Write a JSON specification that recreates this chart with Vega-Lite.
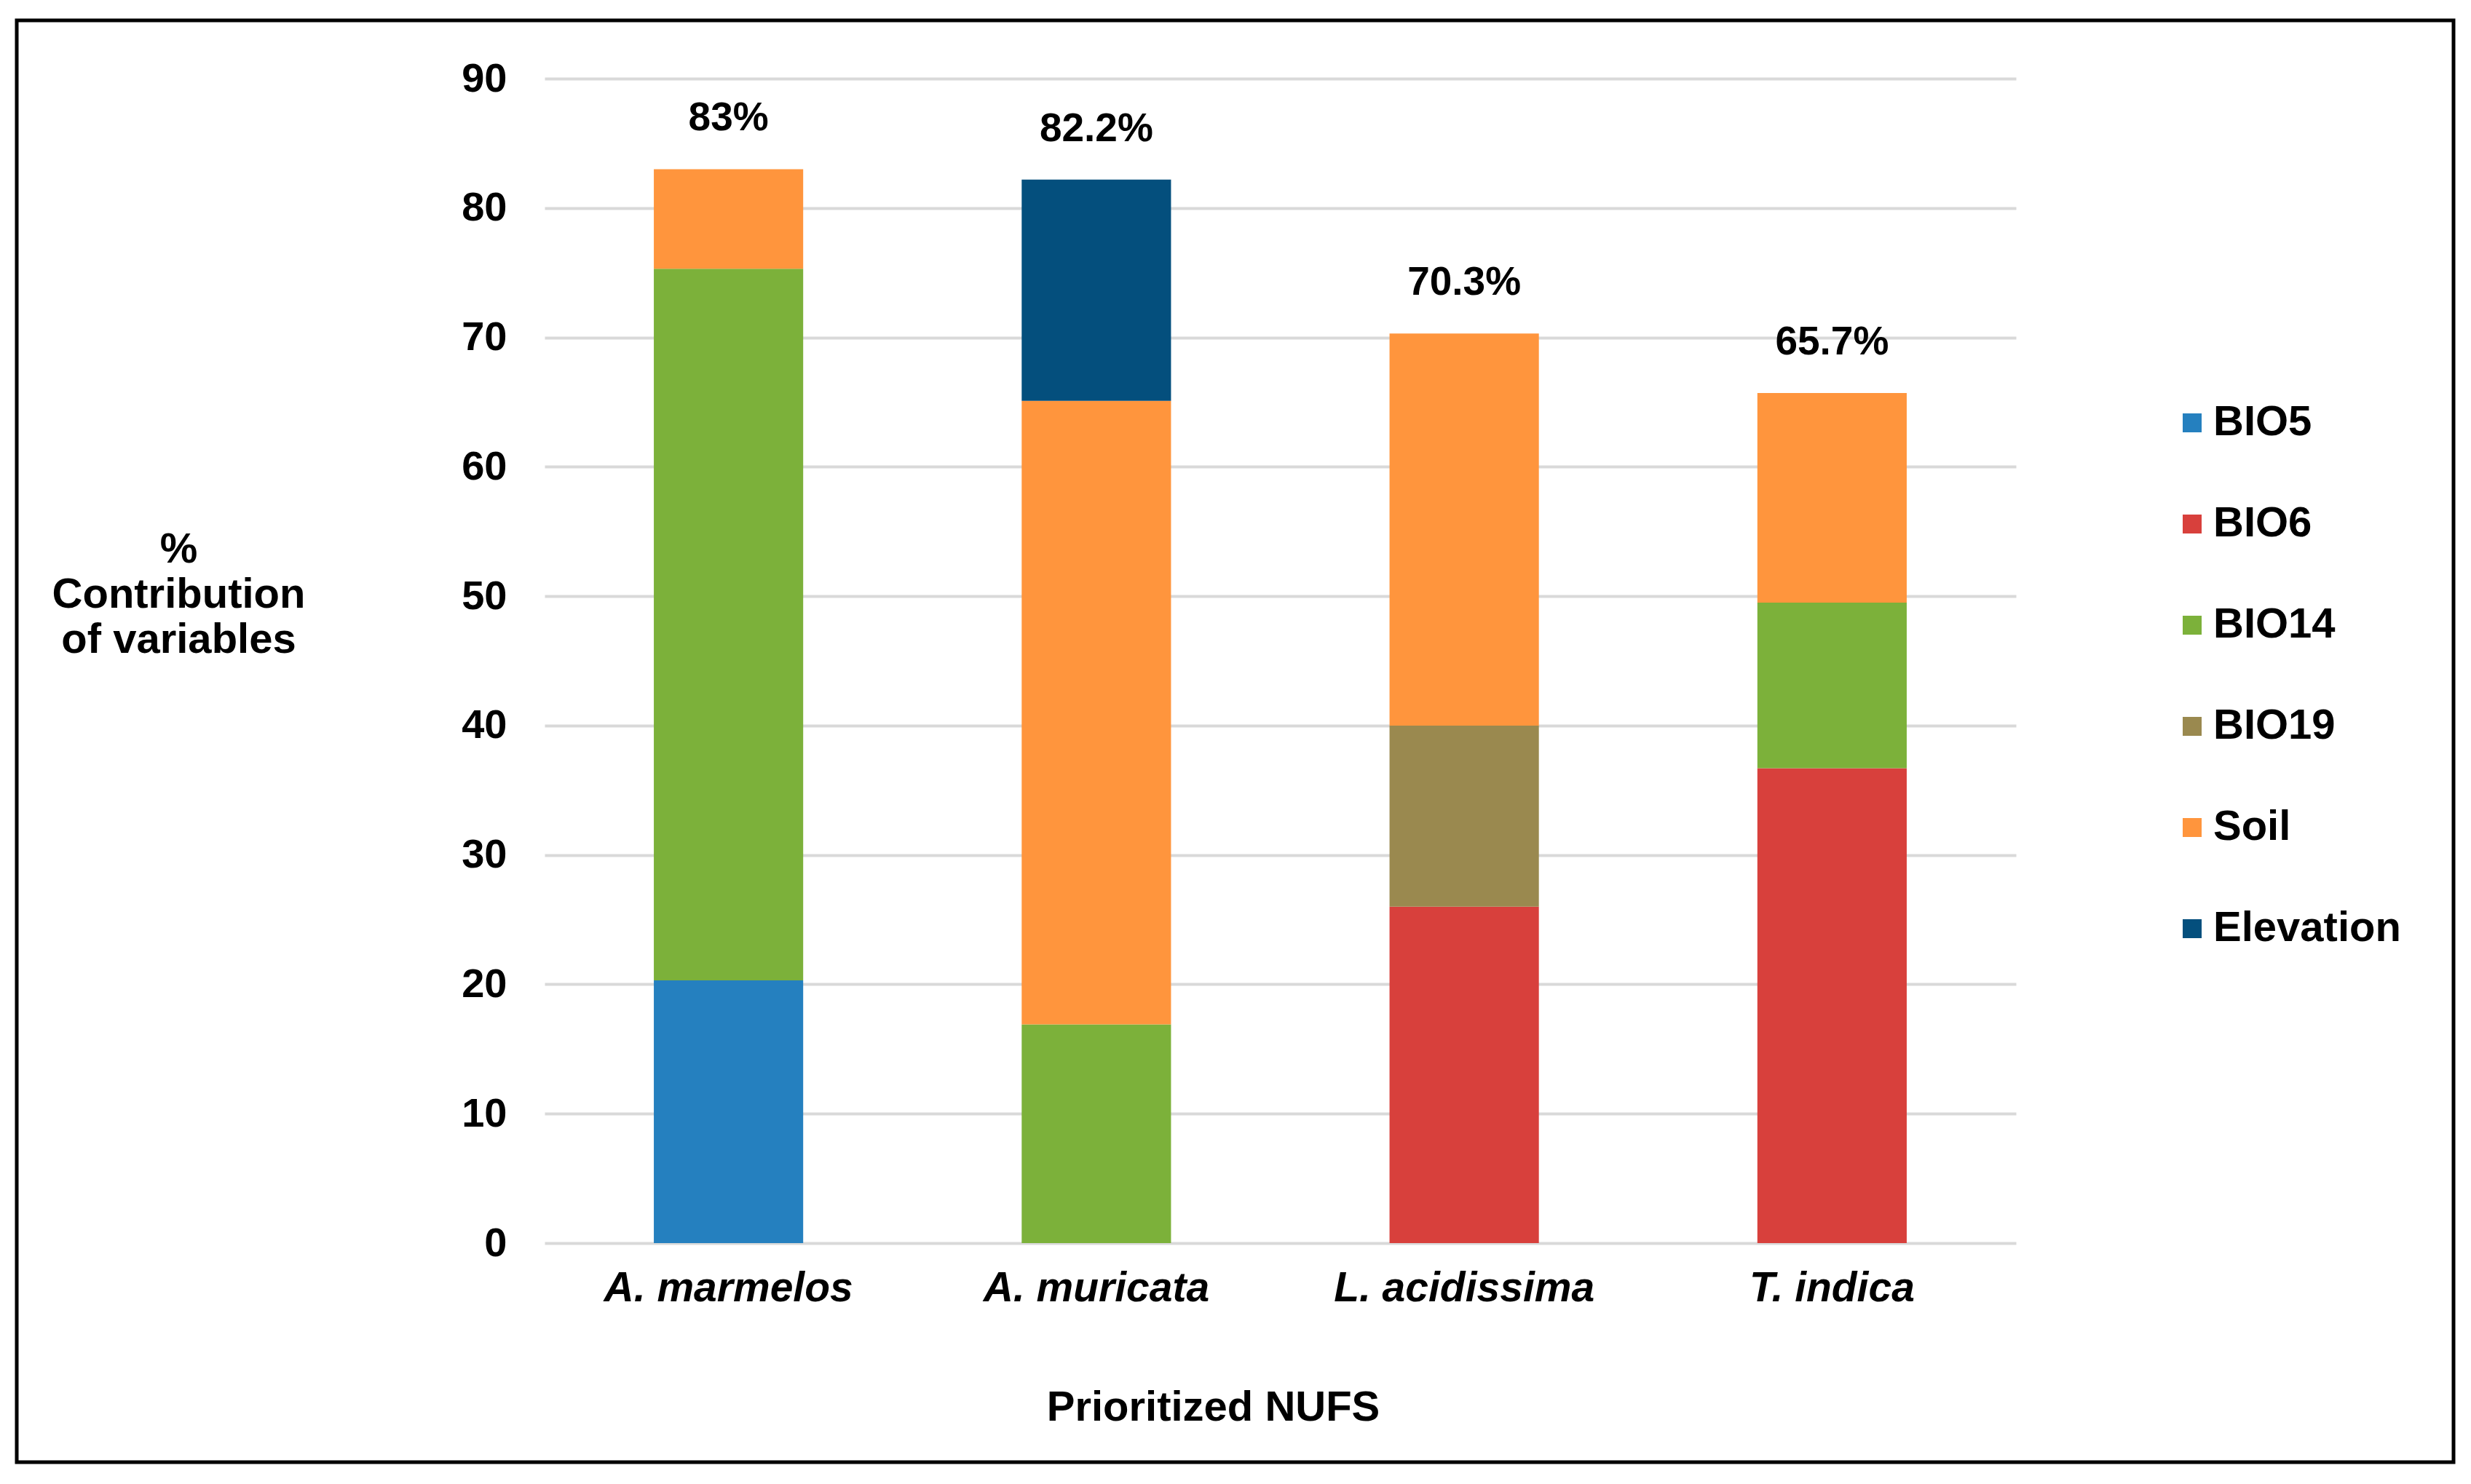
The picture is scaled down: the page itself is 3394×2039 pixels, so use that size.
{
  "$schema": "https://vega.github.io/schema/vega-lite/v6.json",
  "autosize": {"type": "none"},
  "width": 2021,
  "height": 1600,
  "padding": {"left": 748, "top": 108, "right": 625, "bottom": 331},
  "background": "white",
  "config": {
    "view": {"stroke": null},
    "font": "Liberation Sans",
    "text": {"font": "Liberation Sans"}
  },
  "datasets": {
    "parts": [
      {"species": "A. marmelos", "variable": "BIO5", "value": 20.3},
      {"species": "A. marmelos", "variable": "BIO14", "value": 55.0},
      {"species": "A. marmelos", "variable": "Soil", "value": 7.7},
      {"species": "A. muricata", "variable": "BIO14", "value": 16.9},
      {"species": "A. muricata", "variable": "Soil", "value": 48.2},
      {"species": "A. muricata", "variable": "Elevation", "value": 17.1},
      {"species": "L. acidissima", "variable": "BIO6", "value": 26.0},
      {"species": "L. acidissima", "variable": "BIO19", "value": 14.0},
      {"species": "L. acidissima", "variable": "Soil", "value": 30.3},
      {"species": "T. indica", "variable": "BIO6", "value": 36.7},
      {"species": "T. indica", "variable": "BIO14", "value": 12.8},
      {"species": "T. indica", "variable": "Soil", "value": 16.2}
    ],
    "totals": [
      {"species": "A. marmelos", "total": 83.0, "label": "83%"},
      {"species": "A. muricata", "total": 82.2, "label": "82.2%"},
      {"species": "L. acidissima", "total": 70.3, "label": "70.3%"},
      {"species": "T. indica", "total": 65.7, "label": "65.7%"}
    ],
    "frame": [{"x0": 0, "x1": 1, "y0": 0, "y1": 1}]
  },
  "layer": [
    {
      "layer": [
        {
          "data": {"name": "parts"},
          "transform": [
            {"calculate": "indexof(['BIO5','BIO6','BIO14','BIO19','Soil','Elevation'], datum.variable)", "as": "stackOrder"}
          ],
          "mark": {"type": "bar", "stroke": null},
          "encoding": {
            "x": {
              "field": "species",
              "type": "nominal",
              "sort": ["A. marmelos", "A. muricata", "L. acidissima", "T. indica"],
              "scale": {"paddingInner": 0.594, "paddingOuter": 0.297},
              "axis": {
                "labelAngle": 0,
                "labelFont": "Liberation Sans",
                "labelFontSize": 57,
                "labelFontWeight": "bold",
                "labelFontStyle": "italic",
                "labelColor": "#000000",
                "labelPadding": 34,
                "labelLimit": 900,
                "ticks": false,
                "domain": false,
                "title": "Prioritized NUFS",
                "titleFont": "Liberation Sans",
                "titleFontSize": 58,
                "titleFontWeight": "bold",
                "titleColor": "#000000",
                "titleX": 918,
                "titleY": 226,
                "titleBaseline": "middle",
                "titleAlign": "center"
              }
            },
            "y": {
              "field": "value",
              "type": "quantitative",
              "stack": "zero",
              "scale": {"domain": [0, 90], "nice": false},
              "axis": {
                "values": [0, 10, 20, 30, 40, 50, 60, 70, 80, 90],
                "labelFont": "Liberation Sans",
                "labelFontSize": 56,
                "labelFontWeight": "bold",
                "labelColor": "#000000",
                "labelPadding": 52,
                "ticks": false,
                "domain": false,
                "grid": true,
                "gridColor": "#d9d9d9",
                "gridWidth": 4,
                "title": ["%", "Contribution", "of variables"],
                "titleFont": "Liberation Sans",
                "titleFontSize": 58,
                "titleFontWeight": "bold",
                "titleColor": "#000000",
                "titleAngle": 0,
                "titleAlign": "center",
                "titleBaseline": "middle",
                "titleLineHeight": 62,
                "titleX": -503,
                "titleY": 647
              }
            },
            "order": {"field": "stackOrder", "type": "quantitative", "sort": "ascending"},
            "color": {
              "field": "variable",
              "type": "nominal",
              "sort": ["BIO5", "BIO6", "BIO14", "BIO19", "Soil", "Elevation"],
              "scale": {
                "domain": ["BIO5", "BIO6", "BIO14", "BIO19", "Soil", "Elevation"],
                "range": ["#2580bf", "#d8403c", "#7cb13a", "#9a894f", "#ff953d", "#044f7d"]
              },
              "legend": {
                "title": null,
                "orient": "none",
                "legendX": 2234,
                "legendY": 444,
                "symbolType": "square",
                "symbolSize": 676,
                "symbolStrokeWidth": 0,
                "labelFont": "Liberation Sans",
                "labelFontSize": 58,
                "labelFontWeight": "bold",
                "labelColor": "#000000",
                "labelOffset": 0,
                "rowPadding": 81,
                "labelLimit": 600
              }
            }
          }
        },
        {
          "data": {"name": "totals"},
          "mark": {"type": "text", "font": "Liberation Sans", "fontSize": 55, "fontWeight": "bold", "color": "#000000", "baseline": "middle", "dy": -70},
          "encoding": {
            "x": {"field": "species", "type": "nominal", "sort": ["A. marmelos", "A. muricata", "L. acidissima", "T. indica"]},
            "y": {"field": "total", "type": "quantitative"},
            "text": {"field": "label"}
          }
        }
      ]
    },
    {
      "data": {"name": "frame"},
      "mark": {"type": "rect", "fill": null, "fillOpacity": 0, "stroke": "#000000", "strokeWidth": 5, "clip": false},
      "encoding": {
        "x": {"field": "x0", "type": "quantitative", "scale": {"domain": [0, 1], "range": [-725, 2622]}, "axis": null},
        "x2": {"field": "x1"},
        "y": {"field": "y0", "type": "quantitative", "scale": {"domain": [0, 1], "range": [1901, -80]}, "axis": null},
        "y2": {"field": "y1"}
      }
    }
  ],
  "resolve": {"scale": {"x": "independent", "y": "independent"}}
}
